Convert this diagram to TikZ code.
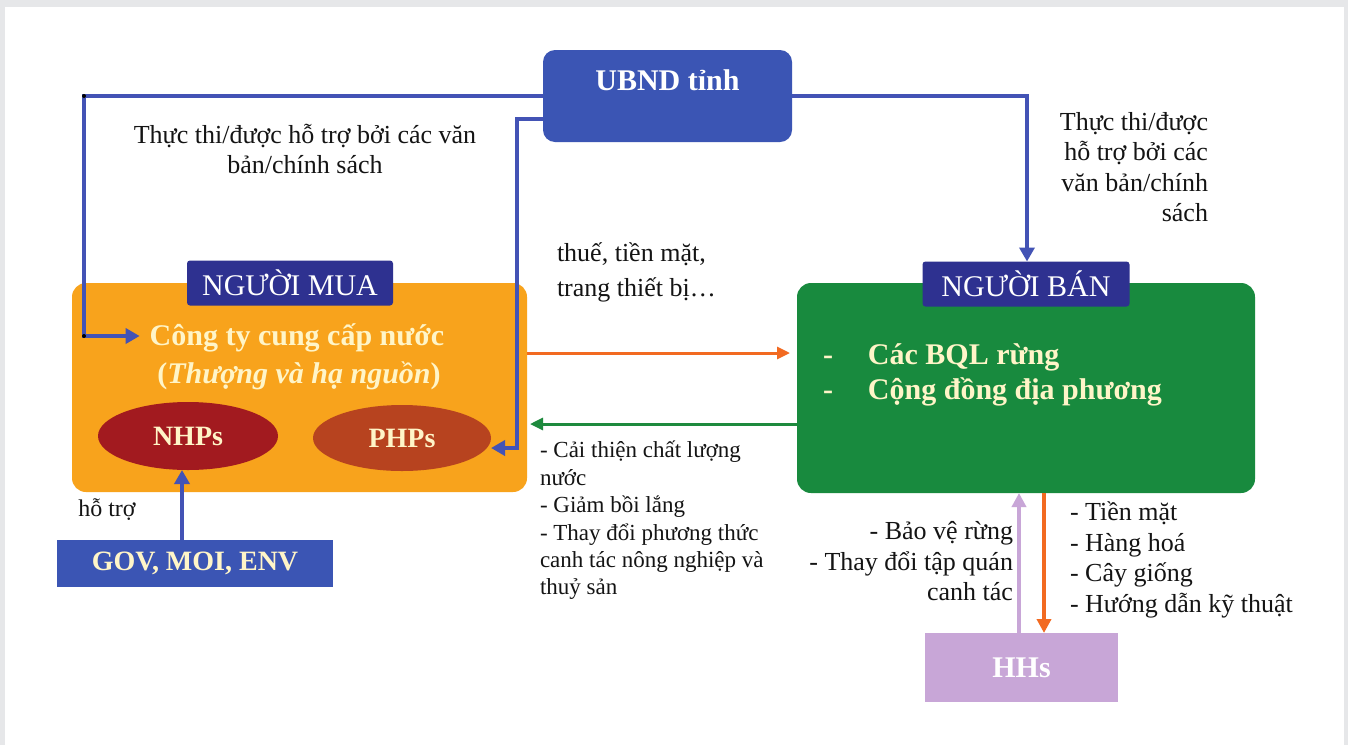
\documentclass[tikz,border=0pt]{standalone}
\usepackage{fontspec}
\setmainfont{Liberation Serif}
\usetikzlibrary{arrows.meta,shapes.geometric}
\definecolor{bgray}{HTML}{E6E7E9}
\definecolor{ubndblue}{HTML}{3B55B4}
\definecolor{navy}{HTML}{2E3190}
\definecolor{lineblue}{HTML}{4353B5}
\definecolor{orbox}{HTML}{F8A31C}
\definecolor{grbox}{HTML}{188A3E}
\definecolor{nhpred}{HTML}{A21A1F}
\definecolor{phpred}{HTML}{B7431F}
\definecolor{cream}{HTML}{FFF5C8}
\definecolor{orarrow}{HTML}{F26A21}
\definecolor{grarrow}{HTML}{1E8A3E}
\definecolor{purp}{HTML}{C8A6D7}
\definecolor{txt}{HTML}{141414}
\begin{document}
\begin{tikzpicture}[x=1pt,y=-1pt,
  plain/.style={inner sep=0pt, outer sep=0pt},
  lbl/.style={plain, text=txt, font=\fontsize{26}{30.5}\selectfont},
  smalllbl/.style={plain, text=txt, font=\fontsize{23}{27.4}\selectfont},
  creambold/.style={plain, text=cream, font=\bfseries\fontsize{30}{36}\selectfont},
  tagbox/.style={plain, fill=navy, rounded corners=3pt, text=white, font=\fontsize{30}{36}\selectfont},
  bluearrow/.style={draw=lineblue, line width=4.5pt, -{Triangle[length=14pt,width=15pt]}},
  thinarrow/.style={line width=3pt, -{Triangle[length=13pt,width=12pt]}},
  vertarrow/.style={line width=4pt, -{Triangle[length=14pt,width=14pt]}}
]
\useasboundingbox (0,0) rectangle (1348,745);
\fill[bgray] (0,0) rectangle (1348,745);
\fill[white] (5,7) rectangle (1344,745);

% UBND
\node[plain, fill=ubndblue, rounded corners=12pt, minimum width=249pt, minimum height=92pt] (ubnd) at (667.5,96) {};
\node[plain, text=white, font=\bfseries\fontsize{30}{36}\selectfont] (ubndtxt) at (667.5,80) {UBND tỉnh};

% buyer box
\node[plain, fill=orbox, rounded corners=14pt, minimum width=455pt, minimum height=209pt] (buyer) at (299.5,387.5) {};
\node[tagbox, minimum width=206pt, minimum height=45pt] (mua) at (290,283) {NGƯỜI MUA};
\node[creambold] (cty) at (297,338) {Công ty cung cấp nước};
\node[creambold] (ctysub) at (299,376) {(\textit{Thượng và hạ nguồn})};
\node[plain, ellipse, fill=nhpred, minimum width=180pt, minimum height=68pt, text=cream, font=\bfseries\fontsize{28}{34}\selectfont] (nhp) at (188,436) {NHPs};
\node[plain, ellipse, fill=phpred, minimum width=178pt, minimum height=66pt, text=cream, font=\bfseries\fontsize{28}{34}\selectfont] (php) at (402,438) {PHPs};

% seller box
\node[plain, fill=grbox, rounded corners=14pt, minimum width=458pt, minimum height=210pt] (seller) at (1026,388) {};
\node[tagbox, minimum width=207pt, minimum height=45pt] (ban) at (1026,284) {NGƯỜI BÁN};
\node[creambold, anchor=west] (bql) at (823,357) {\makebox[45pt][l]{-}Các BQL rừng};
\node[creambold, anchor=west] (cd) at (823,392) {\makebox[45pt][l]{-}Cộng đồng địa phương};

% GOV and HHs
\node[plain, fill=ubndblue, minimum width=276pt, minimum height=47pt, text=cream, font=\bfseries\fontsize{28}{34}\selectfont] (gov) at (195,563.5) {GOV, MOI, ENV};
\node[plain, fill=purp, minimum width=193pt, minimum height=69pt, text=white, font=\bfseries\fontsize{30}{36}\selectfont] (hhs) at (1021.5,667.5) {HHs};

% labels
\node[lbl, align=center] (lblTL) at (305,149) {Thực thi/được hỗ trợ bởi các văn\\bản/chính sách};
\node[lbl, align=right, anchor=east] (lblTR) at (1208,167) {Thực thi/được\\hỗ trợ bởi các\\văn bản/chính\\sách};
\node[plain, text=txt, font=\fontsize{26}{35}\selectfont, align=left, anchor=west] (lblTax) at (557,272) {thuế, tiền mặt,\\trang thiết bị…};
\node[smalllbl, align=left, anchor=west] (lblBen) at (540,520.5) {- Cải thiện chất lượng\\nước\\- Giảm bồi lắng\\- Thay đổi phương thức\\canh tác nông nghiệp và\\thuỷ sản};
\node[plain, text=txt, font=\fontsize{24}{28}\selectfont] (lblHT) at (107,510) {hỗ trợ};
\node[lbl, align=right, anchor=east] (lblHH1) at (1013,561.5) {- Bảo vệ rừng\\- Thay đổi tập quán\\canh tác};
\node[lbl, align=left, anchor=west] (lblHH2) at (1070,560) {- Tiền mặt\\- Hàng hoá\\- Cây giống\\- Hướng dẫn kỹ thuật};

% connectors
\coordinate (lc1) at (84,96);
\coordinate (lc2) at (84,336);
\draw[bluearrow] (ubnd.west) -- (lc1) -- (lc2) -- ([xshift=-10pt]lc2 -| cty.west);
\fill[black] (lc1) circle (2pt);
\fill[black] (lc2) circle (2pt);

\coordinate (pc1) at (517,119);
\coordinate (pc2) at (517,448);
\draw[bluearrow] ([yshift=-23pt]ubnd.west) -- (pc1) -- (pc2) -- (pc2 -| php.east);

\coordinate (rc1) at (1027,96);
\draw[bluearrow] (ubnd.east) -- (rc1) -- (rc1 |- ban.north);

\draw[bluearrow] ([xshift=-13pt]gov.north) -- ([xshift=-6pt]nhp.south);

\draw[thinarrow, draw=orarrow, shorten >=7pt] ([yshift=34.5pt]buyer.east) -- ([yshift=34.5pt]buyer.east -| seller.west);
\draw[thinarrow, draw=grarrow, shorten >=3pt] ([yshift=-36pt]seller.west) -- ([yshift=-36pt]seller.west -| buyer.east);

\draw[vertarrow, draw=purp] ([xshift=-2.5pt]hhs.north) -- ([xshift=-2.5pt]hhs.north |- seller.south);
\draw[vertarrow, draw=orarrow] ([xshift=22.5pt]hhs.north |- seller.south) -- ([xshift=22.5pt]hhs.north);
\end{tikzpicture}
\end{document}
